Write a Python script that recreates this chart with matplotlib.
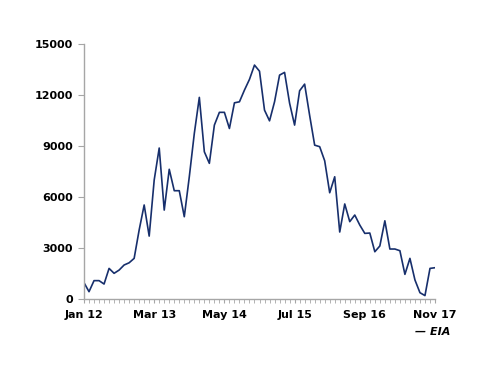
import numpy as np
import pandas as pd
import matplotlib
matplotlib.use("Agg")
import matplotlib.pyplot as plt

# monthly values, Jan 2012 .. Nov 2017
months = pd.date_range("2012-01-01", "2017-11-01", freq="MS")
values = [
    960, 430, 1080, 1080, 880, 1800, 1510, 1700, 2000, 2130,
    2390, 4060, 5530, 3700, 7000, 8880, 5230, 7630, 6370, 6370,
    4840, 7190, 9740, 11860, 8660, 7980, 10230, 10980, 10980, 10030,
    11540, 11600, 12290, 12920, 13760, 13400, 11110, 10480, 11600, 13170,
    13330, 11520, 10230, 12250, 12640, 10800, 9050, 8960, 8130, 6250,
    7190, 3940, 5590, 4550, 4940, 4350, 3860, 3880, 2780, 3120,
    4600, 2940, 2940, 2840, 1450, 2390, 1120, 370, 200, 1800,
    1840,
]
tick_labels = ["Jan 12", "Mar 13", "May 14", "Jul 15", "Sep 16", "Nov 17"]
y_ticks = [0, 3000, 6000, 9000, 12000, 15000]
source = "\u2014 EIA"

x = np.arange(len(months))
line_color = "#172f6c"
axis_color = "#a6a6a6"

fig = plt.figure(figsize=(5, 3.86), dpi=100)
ax = fig.add_axes([0.168, 0.2254, 0.702, 0.6606])
ax.plot(x, values, color=line_color, lw=1.2)

ax.set_xlim(0, len(months) - 1)
ax.set_ylim(0, 15000)
ax.set_yticks(y_ticks)
ax.set_yticklabels([str(v) for v in y_ticks])
ax.set_xticks(x[::14])
ax.set_xticklabels(tick_labels)
ax.set_xticks(x, minor=True)

for s in ["top", "right"]:
    ax.spines[s].set_visible(False)
for s in ["left", "bottom"]:
    ax.spines[s].set_color(axis_color)
    ax.spines[s].set_linewidth(1.0)

ax.tick_params(axis="y", which="major", length=4, color=axis_color,
               labelsize=8, pad=4)
ax.tick_params(axis="x", which="both", length=3, color=axis_color,
               labelsize=8, pad=5)
for lab in ax.get_xticklabels() + ax.get_yticklabels():
    lab.set_fontweight("bold")

fig.text(0.83, 0.14, source, fontsize=8, fontweight="bold",
         fontstyle="italic", ha="left", va="center")

fig.savefig("out.png", dpi=100)
